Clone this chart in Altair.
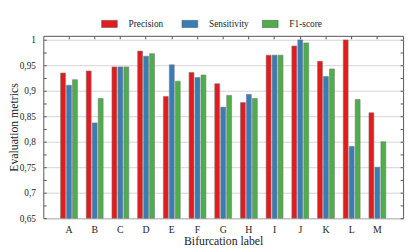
import altair as alt
import pandas as pd

labels = ["A", "B", "C", "D", "E", "F", "G", "H", "I", "J", "K", "L", "M"]
metrics = ["Precision", "Sensitivity", "F1-score"]
colors = ["#e41a1c", "#377eb8", "#4daf4a"]
precision = [0.935, 0.939, 0.947, 0.978, 0.889, 0.936, 0.914, 0.877, 0.970, 0.988, 0.958, 1.000, 0.857]
sensitivity = [0.911, 0.837, 0.947, 0.968, 0.951, 0.926, 0.868, 0.893, 0.970, 1.000, 0.928, 0.791, 0.750]
f1score = [0.922, 0.885, 0.947, 0.973, 0.919, 0.931, 0.891, 0.885, 0.970, 0.994, 0.943, 0.883, 0.800]
label_ticks = [0.65, 0.7, 0.75, 0.8, 0.85, 0.9, 0.95, 1.0]
minor_ticks = [0.65, 0.675, 0.7, 0.725, 0.75, 0.775, 0.8, 0.825, 0.85, 0.875,
               0.9, 0.925, 0.95, 0.975, 1.0]
y_domain = [0.65, 1.008]

rows = []
for i, lab in enumerate(labels):
    for m, vals in zip(metrics, [precision, sensitivity, f1score]):
        rows.append({"label": lab, "metric": m, "value": vals[i], "base": y_domain[0]})
df = pd.DataFrame(rows)

FONT = "Liberation Serif, Times New Roman, serif"
xs = alt.Scale(domain=labels, paddingInner=0, paddingOuter=0.5)
ys = alt.Scale(domain=y_domain, nice=False, zero=False)

bars = alt.Chart(df).mark_bar(stroke="#777", strokeWidth=0.6).encode(
    x=alt.X("label:N", scale=xs, sort=labels, title="Bifurcation label",
            axis=alt.Axis(orient="bottom", labelAngle=0, ticks=False, domain=False,
                          grid=False, labelPadding=7, titlePadding=1,
                          labelFont=FONT, labelFontSize=10, labelColor="#222",
                          titleFont=FONT, titleFontSize=12, titleFontWeight="normal",
                          titleColor="#222")),
    xOffset=alt.XOffset("metric:N", sort=metrics,
                        scale=alt.Scale(paddingInner=0.18, paddingOuter=0.74)),
    y=alt.Y("value:Q", scale=ys, title="Evaluation metrics",
            axis=alt.Axis(orient="left", values=label_ticks, ticks=False, domain=False,
                          grid=True, gridColor="#d4d4d4", gridWidth=1,
                          labelExpr="replace(format(datum.value, '.3~f'), '.', ',')",
                          labelPadding=8, titleX=-23,
                          labelFont=FONT, labelFontSize=9.5, labelColor="#222",
                          titleFont=FONT, titleFontSize=12, titleFontWeight="normal",
                          titleColor="#222")),
    y2="base:Q",
    color=alt.Color("metric:N", sort=metrics,
                    scale=alt.Scale(domain=metrics, range=colors),
                    legend=alt.Legend(title=None, orient="none", legendX=59, legendY=-21,
                                      direction="horizontal", columns=3, gridAlign="all",
                                      columnPadding=12, labelOffset=11, padding=0,
                                      symbolType="M-1,-0.45H1V0.45H-1Z", symbolSize=256,
                                      symbolStrokeColor="#555", symbolStrokeWidth=0.6,
                                      labelFont=FONT, labelFontSize=9.5, labelColor="#222")),
)

tick_axis = dict(labels=False, domain=False, grid=False, tickSize=3, tickColor="#555",
                 tickWidth=1, title=None, offset=-3)

ticks_a = alt.Chart(df).mark_bar(opacity=0).encode(
    x=alt.X("label:N", scale=xs, sort=labels,
            axis=alt.Axis(orient="top", bandPosition=0.5, **tick_axis)),
    y=alt.Y("value:Q", scale=ys,
            axis=alt.Axis(orient="right", values=minor_ticks, **tick_axis)),
    y2="base:Q",
)
ticks_b = alt.Chart(df).mark_bar(opacity=0).encode(
    x=alt.X("label:N", scale=xs, sort=labels,
            axis=alt.Axis(orient="bottom", bandPosition=0.5, **tick_axis)),
    y=alt.Y("value:Q", scale=ys,
            axis=alt.Axis(orient="left", values=minor_ticks, **tick_axis)),
    y2="base:Q",
)

chart = alt.layer(bars, ticks_a, ticks_b).resolve_axis(
    x="independent", y="independent"
).properties(
    width=367, height=186,
    autosize=alt.AutoSizeParams(type="none"),
    padding={"left": 36, "top": 26, "right": 4, "bottom": 27},
    background="white",
).configure_view(stroke="#555", strokeWidth=1)

chart.save("out.html", embed_options={"renderer": "svg", "actions": False})
